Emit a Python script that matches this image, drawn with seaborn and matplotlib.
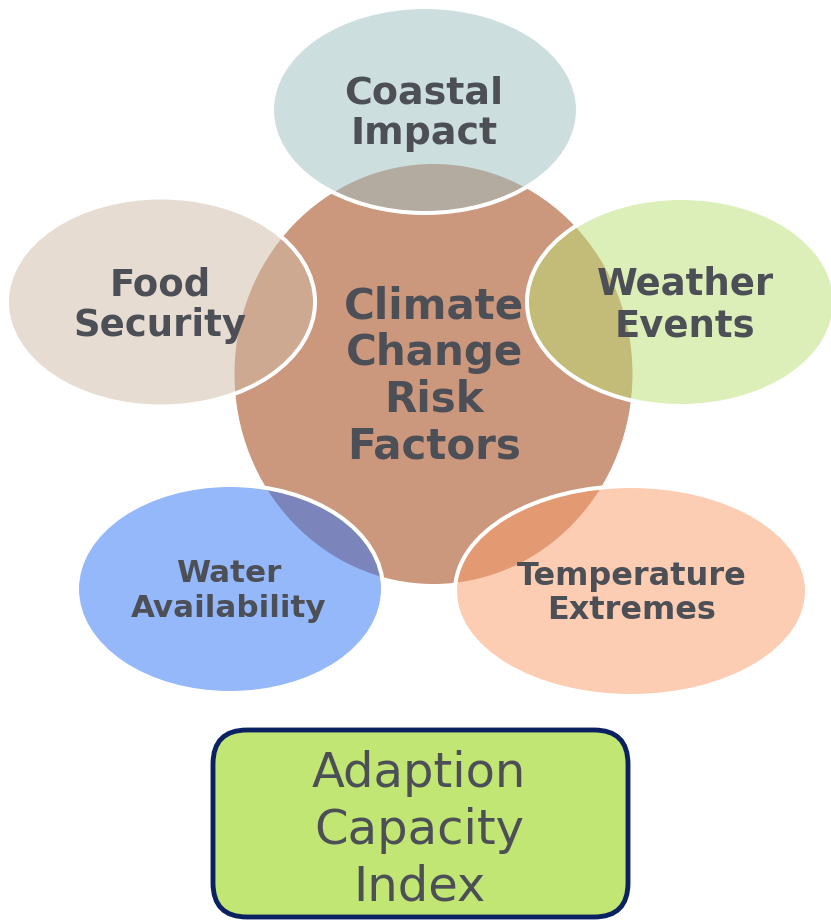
import matplotlib
matplotlib.use("Agg")
import matplotlib.pyplot as plt
from matplotlib.patches import Ellipse, FancyBboxPatch
import seaborn as sns

# Diagram content
hub_label = "Climate\nChange\nRisk\nFactors"
factor_labels = ["Coastal\nImpact", "Food\nSecurity", "Weather\nEvents",
                 "Water\nAvailability", "Temperature\nExtremes"]
factor_colors = ["#9DBFC1", "#CFBBA5", "#BDE175", "#2D73F9", "#FB9D69"]
index_label = "Adaption\nCapacity\nIndex"

sns.set_theme(style="white")
plt.rcParams["font.family"] = ["DejaVu Sans"]

W, H = 831, 921
fig = plt.figure(figsize=(W / 100, H / 100), dpi=100)
ax = fig.add_axes([0, 0, 1, 1])
ax.set_xlim(0, W)
ax.set_ylim(H, 0)
ax.set_axis_off()

TEXT = "#4D4F57"
PX = 0.72  # points per pixel at 100 dpi


def draw_lines(x, y0, label, size_px, step, weight="bold"):
    for i, line in enumerate(label.split("\n")):
        ax.text(x, y0 + i * step, line, ha="center", va="baseline",
                fontsize=size_px * PX, fontweight=weight, color=TEXT, zorder=10)


# central hub
ax.add_patch(Ellipse((433.5, 374), 398, 420, facecolor="#CB977D",
                     edgecolor="none", zorder=1))

# satellite ellipses: (center, width, height), text (x, first baseline, size, step)
layout = [
    ((425, 110), 306, 206, (424, 103, 38, 41)),
    ((161, 302), 308, 209, (160, 295, 37, 41)),
    ((681, 302), 308, 208, (685, 294, 37, 42)),
    ((230, 589), 306, 208, (229, 582, 31, 35)),
    ((631, 591), 352, 210, (632, 585, 32, 34)),
]
for (c, w, h, t), lab, col in zip(layout, factor_labels, factor_colors):
    ax.add_patch(Ellipse(c, w, h, facecolor=matplotlib.colors.to_rgba(col, 0.5),
                         edgecolor="white", linewidth=2.9, zorder=2))
    draw_lines(t[0], t[1], lab, t[2], t[3])

draw_lines(434, 318, hub_label, 42, 46.7)

# index box
ax.add_patch(FancyBboxPatch((213, 730), 415, 187,
                            boxstyle="round,pad=0,rounding_size=34",
                            facecolor="#C2E673", edgecolor="#0B2262",
                            linewidth=3.5, zorder=3))
draw_lines(419, 787, index_label, 48, 56.5, weight="normal")

fig.savefig("out.png", dpi=100)
